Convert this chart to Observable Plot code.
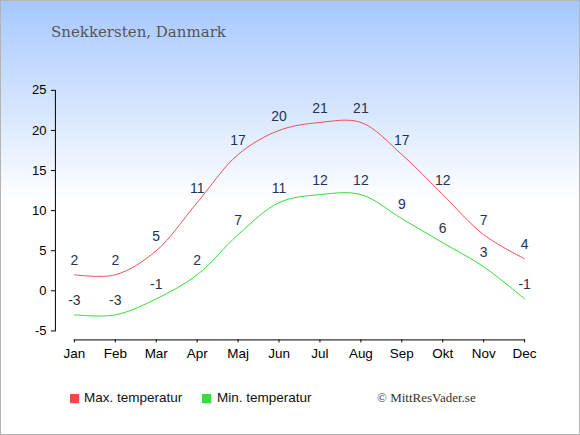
<!DOCTYPE html>
<html><head><meta charset="utf-8">
<script src="https://cdn.jsdelivr.net/npm/d3@7"></script>
<script src="https://cdn.jsdelivr.net/npm/@observablehq/plot@0.6"></script>
<style>
html,body{margin:0;padding:0;background:#fff;}
#wrap{position:relative;width:580px;height:435px;box-sizing:border-box;border:1px solid #b4b4b4;background:linear-gradient(to bottom,#a6c8ff 0px,#ffffff 200px,#ffffff 100%);overflow:hidden;}
#title{position:absolute;left:50px;top:24px;font-family:"DejaVu Serif",serif;font-size:15px;line-height:15px;color:#555;white-space:nowrap;}
#chart{position:absolute;left:-1px;top:-1px;}
.sq{position:absolute;width:9px;height:9px;box-shadow:1px 1px 0 rgba(0,0,0,0.12);}
.lt{position:absolute;font-family:"Liberation Sans",Arial,sans-serif;font-size:13.5px;line-height:14px;color:#111;white-space:nowrap;}
#copy{position:absolute;left:376px;top:390px;font-family:"Liberation Serif",serif;font-size:13px;line-height:13px;color:#333;white-space:nowrap;}
</style></head>
<body>
<div id="wrap">
  <div id="title">Snekkersten, Danmark</div>
  <div id="chart"></div>
  <div class="sq" style="left:69px;top:393px;background:#f04848"></div>
  <div class="lt" style="left:83px;top:390px">Max. temperatur</div>
  <div class="sq" style="left:201px;top:393px;background:#33e033"></div>
  <div class="lt" style="left:216px;top:390px">Min. temperatur</div>
  <div id="copy">© MittResVader.se</div>
</div>
<script>
const months = ["Jan","Feb","Mar","Apr","Maj","Jun","Jul","Aug","Sep","Okt","Nov","Dec"];
const maxTemp = [2,2,5,11,17,20,21,21,17,12,7,4];
const minTemp = [-3,-3,-1,2,7,11,12,12,9,6,3,-1];
const yTicks = [-5,0,5,10,15,20,25];

const rows = months.map((m,i)=>({month:m, max:maxTemp[i], min:minTemp[i]}));

const chart = Plot.plot({
  width:580, height:360,
  marginLeft:55, marginRight:55, marginTop:90, marginBottom:20,
  style:{background:"transparent", fontFamily:"'Liberation Sans', Arial, sans-serif", overflow:"visible", color:"#000"},
  x:{type:"point", domain:months, range:[74,525], padding:0, label:null},
  y:{domain:[-5,25], range:[331,90], label:null},
  marks:[
    Plot.frame({anchor:"left", insetBottom:9, stroke:"#000"}),
    Plot.frame({anchor:"bottom", insetLeft:19, stroke:"#000"}),
    Plot.axisY(yTicks, {tickSize:4, fontSize:13, tickFormat:d=>String(d), label:null}),
    Plot.axisX({tickSize:3, fontSize:13.5, label:null}),
    Plot.line(rows, {x:"month", y:"max", curve:"catmull-rom", stroke:"#f05050", strokeWidth:1}),
    Plot.line(rows, {x:"month", y:"min", curve:"catmull-rom", stroke:"#33dd33", strokeWidth:1}),
    Plot.text(rows, {x:"month", y:"max", text:d=>String(d.max), dy:-14, fontSize:14, fill:"#223355"}),
    Plot.text(rows, {x:"month", y:"min", text:d=>String(d.min), dy:-14, fontSize:14, fill:"#223355"})
  ]
});
document.getElementById("chart").appendChild(chart);
</script>
</body></html>
